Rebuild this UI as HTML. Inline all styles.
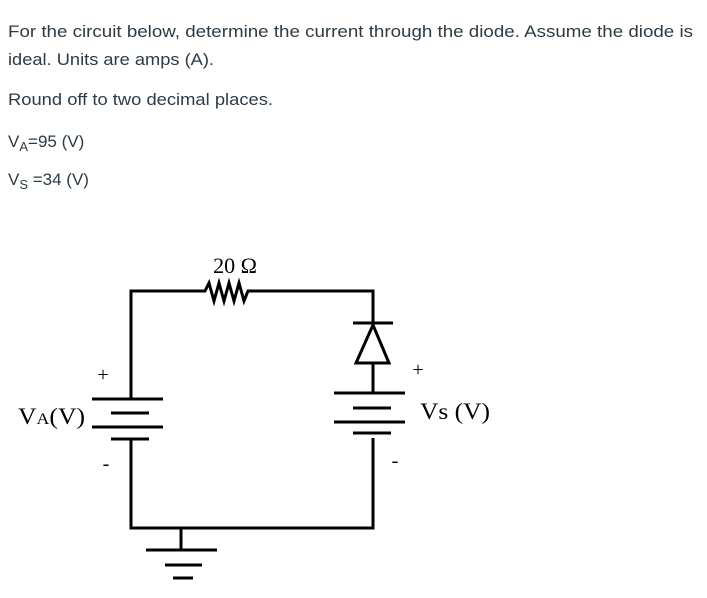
<!DOCTYPE html>
<html><head><meta charset="utf-8"><style>
html,body{margin:0;padding:0;background:#fff;}
svg{display:block;}
.t{font-family:"Liberation Sans",sans-serif;font-size:17px;fill:#2d3b45;}
.s{font-family:"Liberation Serif",serif;fill:#000;}
</style></head><body>
<svg width="707" height="598" viewBox="0 0 707 598" xmlns="http://www.w3.org/2000/svg">
<text class="t" x="8" y="37" textLength="685" lengthAdjust="spacingAndGlyphs">For the circuit below, determine the current through the diode.  Assume the diode is</text>
<text class="t" x="8" y="65" textLength="206" lengthAdjust="spacingAndGlyphs">ideal.  Units are amps (A).</text>
<text class="t" x="8" y="105" textLength="265" lengthAdjust="spacingAndGlyphs">Round off to two decimal places.</text>
<text class="t" x="8" y="147" font-size="18">V<tspan font-size="13" dy="4">A</tspan><tspan dy="-4">=95 (V)</tspan></text>
<text class="t" x="8" y="185" font-size="18">V<tspan font-size="13" dy="4">S</tspan><tspan dy="-4"> =34 (V)</tspan></text>
<g stroke="#000" stroke-width="3" fill="none">
<polyline points="131,399 131,291 205,291 209,283 214,301 219,283 224,301 229,283 234,301 239,283 244,301 248,291 257,291 373,291 373,323"/>
<line x1="353" y1="323" x2="393" y2="323"/>
<polygon points="373,325 356,363 389,363"/>
<line x1="373" y1="363" x2="373" y2="393"/>
<line x1="334" y1="393" x2="405" y2="393"/>
<line x1="353" y1="408" x2="391" y2="408"/>
<line x1="334" y1="422" x2="405" y2="422"/>
<line x1="353" y1="433" x2="391" y2="433"/>
<polyline points="373,438 373,528 131,528 131,440"/>
<line x1="92" y1="399" x2="163" y2="399"/>
<line x1="111" y1="413" x2="149" y2="413"/>
<line x1="92" y1="427" x2="163" y2="427"/>
<line x1="111" y1="439" x2="149" y2="439"/>
<line x1="181" y1="528" x2="181" y2="550"/>
<line x1="146" y1="550" x2="217" y2="550"/>
<line x1="165" y1="565" x2="202" y2="565"/>
<line x1="173" y1="578" x2="193" y2="578"/>
</g>
<text class="s" x="235" y="273" font-size="22" text-anchor="middle">20 Ω</text>
<text class="s" x="103" y="381" font-size="20" text-anchor="middle">+</text>
<text class="s" x="106" y="470" font-size="20" text-anchor="middle">-</text>
<text class="s" x="418" y="376" font-size="20" text-anchor="middle">+</text>
<text class="s" x="395" y="467" font-size="20" text-anchor="middle">-</text>
<text class="s" x="18" y="424" font-size="23" textLength="67" lengthAdjust="spacingAndGlyphs">V<tspan font-size="16">A</tspan>(V)</text>
<text class="s" x="420" y="419" font-size="23" textLength="70" lengthAdjust="spacingAndGlyphs">Vs (V)</text>
</svg>
</body></html>
